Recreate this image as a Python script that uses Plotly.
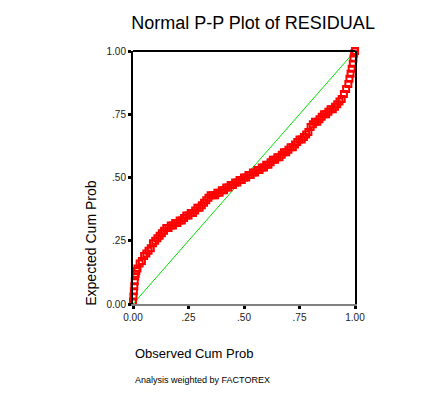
import plotly.graph_objects as go

observed = [0.0, 0.002, 0.004, 0.006, 0.008, 0.01, 0.012, 0.015,
            0.02, 0.03, 0.04, 0.05, 0.06, 0.07, 0.08, 0.09, 0.10, 0.11, 0.12, 0.13, 0.14,
            0.15, 0.16, 0.17, 0.18, 0.19, 0.20, 0.21, 0.22, 0.23, 0.24, 0.25, 0.26, 0.27,
            0.28, 0.29, 0.30, 0.31, 0.32, 0.33, 0.34, 0.35, 0.36, 0.37, 0.38, 0.39, 0.40,
            0.41, 0.42, 0.43, 0.44, 0.45, 0.46, 0.47, 0.48, 0.49, 0.50, 0.51, 0.52, 0.53,
            0.54, 0.55, 0.56, 0.57, 0.58, 0.59, 0.60, 0.61, 0.62, 0.63, 0.64, 0.65, 0.66,
            0.67, 0.68, 0.69, 0.70, 0.71, 0.72, 0.73, 0.74, 0.75, 0.76, 0.77, 0.78, 0.79,
            0.80, 0.81, 0.82, 0.83, 0.84, 0.85, 0.86, 0.87, 0.88, 0.89, 0.90, 0.91, 0.92,
            0.93, 0.94, 0.95, 0.96, 0.97, 0.975, 0.98, 0.985, 0.99, 0.993, 0.996, 1.0]
expected = [0.01, 0.03, 0.05, 0.07, 0.09, 0.11, 0.12, 0.13,
            0.14, 0.16, 0.17, 0.19, 0.20, 0.21, 0.22, 0.24, 0.25, 0.26, 0.27, 0.28, 0.29,
            0.30, 0.30, 0.31, 0.31, 0.32, 0.32, 0.33, 0.33, 0.34, 0.35, 0.35, 0.36, 0.36,
            0.37, 0.38, 0.38, 0.39, 0.40, 0.41, 0.42, 0.43, 0.43, 0.43, 0.44, 0.44, 0.45,
            0.45, 0.46, 0.46, 0.47, 0.47, 0.48, 0.48, 0.49, 0.49, 0.50, 0.50, 0.51, 0.51,
            0.52, 0.52, 0.53, 0.53, 0.54, 0.54, 0.55, 0.55, 0.56, 0.57, 0.57, 0.58, 0.58,
            0.59, 0.60, 0.60, 0.61, 0.62, 0.62, 0.63, 0.64, 0.65, 0.65, 0.66, 0.67, 0.68,
            0.70, 0.71, 0.72, 0.72, 0.73, 0.74, 0.75, 0.75, 0.76, 0.77, 0.77, 0.78, 0.79,
            0.80, 0.81, 0.83, 0.85, 0.87, 0.89, 0.91, 0.93, 0.95, 0.97, 0.99, 1.0]

diag_x = [0.0, 1.0]
diag_y = [0.0, 1.0]

tick_vals = [0.0, 0.25, 0.5, 0.75, 1.0]
tick_text = ["0.00", ".25", ".50", ".75", "1.00"]

FONT = "Liberation Sans, Arial, sans-serif"

fig = go.Figure()
fig.add_trace(go.Scatter(x=diag_x, y=diag_y, mode="lines",
                         line=dict(color="#00e000", width=1), showlegend=False))
fig.add_trace(go.Scatter(x=observed, y=expected, mode="markers",
                         marker=dict(symbol="square-open", size=6, color="#ff0000",
                                     line=dict(color="#ff0000", width=2)),
                         showlegend=False, cliponaxis=False))

fig.update_layout(
    width=434, height=396,
    paper_bgcolor="white", plot_bgcolor="white",
    margin=dict(l=133, r=79, t=51, b=92),
    font=dict(family=FONT, color="black"),
    title=dict(text="Normal P-P Plot of RESIDUAL", x=0.583, xanchor="center",
               y=1 - 23 / 396, yanchor="middle", font=dict(size=18, family=FONT)),
    xaxis=dict(range=[0, 1], tickvals=tick_vals, ticktext=tick_text, showgrid=False,
               zeroline=False, showline=True, linecolor="#808080", linewidth=2,
               ticks="outside", ticklen=3, tickwidth=3, tickcolor="black",
               tickfont=dict(size=10, color="#222")),
    yaxis=dict(range=[0, 1], tickvals=tick_vals, ticktext=tick_text, showgrid=False,
               zeroline=False, showline=True, linecolor="black", linewidth=2, mirror=True,
               ticks="outside", ticklen=3, tickwidth=3, tickcolor="black",
               tickfont=dict(size=10, color="#222")),
    shapes=[dict(type="line", xref="paper", yref="paper", x0=0, x1=1, y0=1, y1=1,
                 line=dict(color="black", width=2))],
    annotations=[
        dict(text="Expected Cum Prob", xref="paper", yref="paper", x=-0.187, y=0.24,
             xanchor="center", yanchor="middle", textangle=-90, showarrow=False,
             font=dict(size=14, family=FONT)),
        dict(text="Observed Cum Prob", xref="paper", yref="paper", x=0.0, y=-0.195,
             xanchor="left", yanchor="middle", showarrow=False,
             font=dict(size=13, family=FONT)),
        dict(text="Analysis weighted by FACTOREX", xref="paper", yref="paper", x=0.0, y=-0.30,
             xanchor="left", yanchor="middle", showarrow=False,
             font=dict(size=9, family=FONT)),
    ],
)

fig.write_html("out.html", config={"displayModeBar": False},
               post_script="document.body.style.margin='0';document.body.style.overflow='hidden';")
